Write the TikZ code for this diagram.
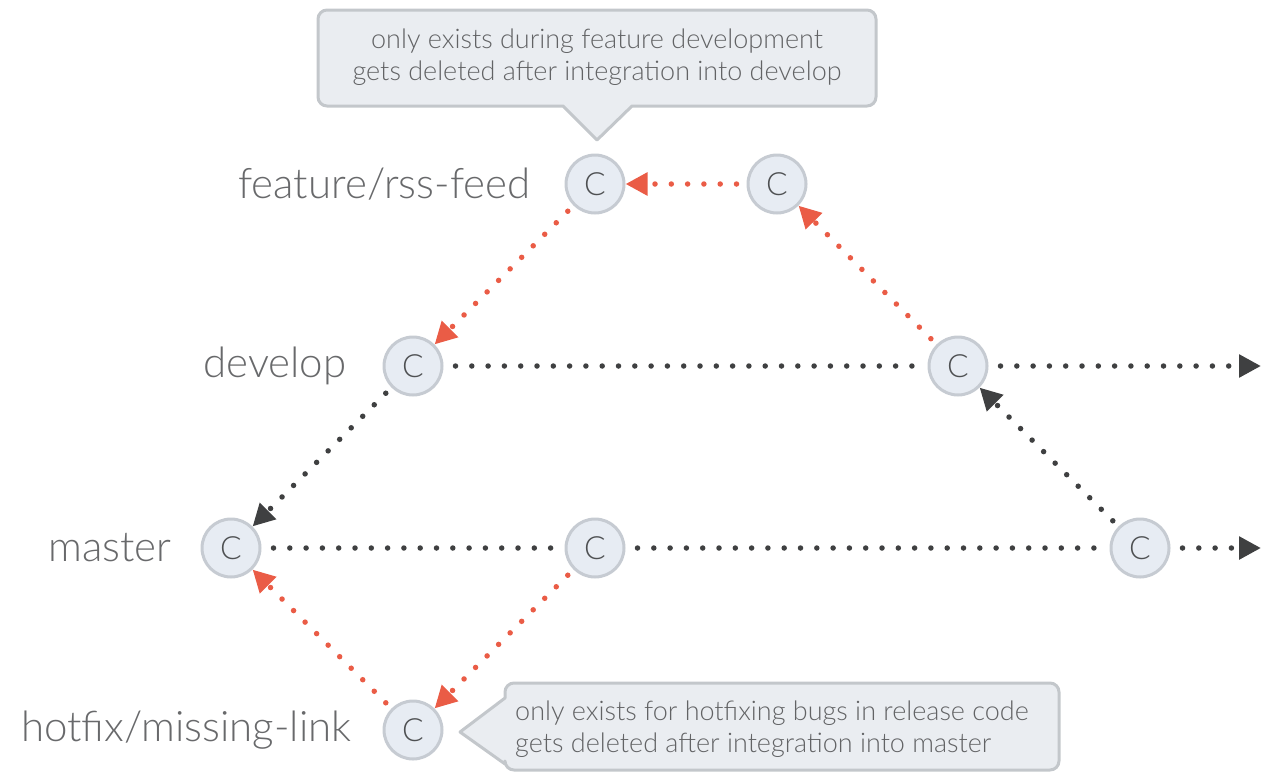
\documentclass[tikz,border=0pt]{standalone}
\usepackage{fontspec}
\setmainfont{Lato Light}
\usetikzlibrary{arrows.meta}
\definecolor{cfill}{HTML}{E7ECF3}
\definecolor{cline}{HTML}{C6CBD2}
\definecolor{cletter}{HTML}{4E5052}
\definecolor{nfill}{HTML}{EAEDF1}
\definecolor{nline}{HTML}{C3C7CB}
\definecolor{ntext}{HTML}{626365}
\definecolor{ltext}{HTML}{68696B}
\definecolor{orng}{HTML}{EA5C46}
\definecolor{drk}{HTML}{3F4041}
\tikzset{
  commit/.style={circle, minimum size=58pt, inner sep=0pt, fill=cfill, draw=cline,
    line width=3pt, text=cletter, font=\fontsize{32}{32}\selectfont},
  branchlabel/.style={anchor=east, text=ltext, inner sep=0pt,
    font=\fontsize{42}{42}\selectfont},
  bubble/.style={fill=nfill, draw=nline, line width=3pt, line join=round},
  notetext/.style={text=ntext, inner sep=0pt, font=\fontsize{27}{32.5}\selectfont},
  flow/.style={line width=5.5pt, line cap=round, dash pattern=on 0pt off 16.3pt,
    -{Triangle[length=22pt,width=22pt]}},
  flowplain/.style={line width=5.5pt, line cap=round, dash pattern=on 0pt off 16.3pt},
  hot/.style={flow, draw=orng},
  main/.style={flow, draw=drk},
  mainplain/.style={flowplain, draw=drk},
}
\begin{document}
\begin{tikzpicture}[x=1pt, y=-1pt]
\useasboundingbox (0,0) rectangle (1263,774);

% callout bubbles
\draw[bubble] (597,140) -- (563,106) [rounded corners=9pt] -- (318,106) -- (318,10)
  -- (876,10) -- (876,106) [sharp corners] -- (632,106) -- cycle;
\node[notetext, align=center] (fnote) at (597,57)
  {only exists during feature development\\gets deleted after integration into develop};

\draw[bubble] (460,732) -- (505,698) [rounded corners=9pt] -- (505,683) -- (1059,683)
  -- (1059,770) -- (505,770) [sharp corners] -- (505,764) -- cycle;
\node[notetext, align=left, anchor=west] (hnote) at (515,729)
  {only exists for hotfixing bugs in release code\\gets deleted after integration into master};

% commits
\node[commit] (f1) at (595,184) {C};
\node[commit] (f2) at (777,184) {C};
\node[commit] (d1) at (413,366) {C};
\node[commit] (d2) at (958,366) {C};
\node[commit] (m1) at (231,548) {C};
\node[commit] (m2) at (595,548) {C};
\node[commit] (m3) at (1140,548) {C};
\node[commit] (h1) at (413,730) {C};

\coordinate (dend) at (1261,366);
\coordinate (mend) at (1261,548);

% branch names
\node[branchlabel] (lf) at ([xshift=-34pt]f1.west) {feature/rss-feed};
\node[branchlabel] (ld) at ([xshift=-36pt]d1.west) {develop};
\node[branchlabel] (lm) at ([xshift=-29pt]m1.west) {master};
\node[branchlabel] (lh) at ([xshift=-31pt]h1.west) {hotfix/missing-link};

% develop and master lines
\draw[mainplain, shorten <=12pt, shorten >=8pt] (d1) -- (d2);
\draw[main, shorten <=12pt] (d2) -- (dend);
\draw[mainplain, shorten <=12pt, shorten >=8pt] (m1) -- (m2);
\draw[mainplain, shorten <=12pt, shorten >=8pt] (m2) -- (m3);
\draw[main, shorten <=12pt] (m3) -- (mend);

% merges and branch-offs
\draw[main, shorten <=8pt] (d1) -- (m1);
\draw[main, shorten <=8pt] (m3) -- (d2);
\draw[hot, shorten <=10pt] (f2) -- (f1);
\draw[hot, shorten <=8pt] (d2) -- (f2);
\draw[hot, shorten <=8pt] (f1) -- (d1);
\draw[hot, shorten <=8pt] (m2) -- (h1);
\draw[hot, shorten <=8pt] (h1) -- (m1);
\end{tikzpicture}
\end{document}
